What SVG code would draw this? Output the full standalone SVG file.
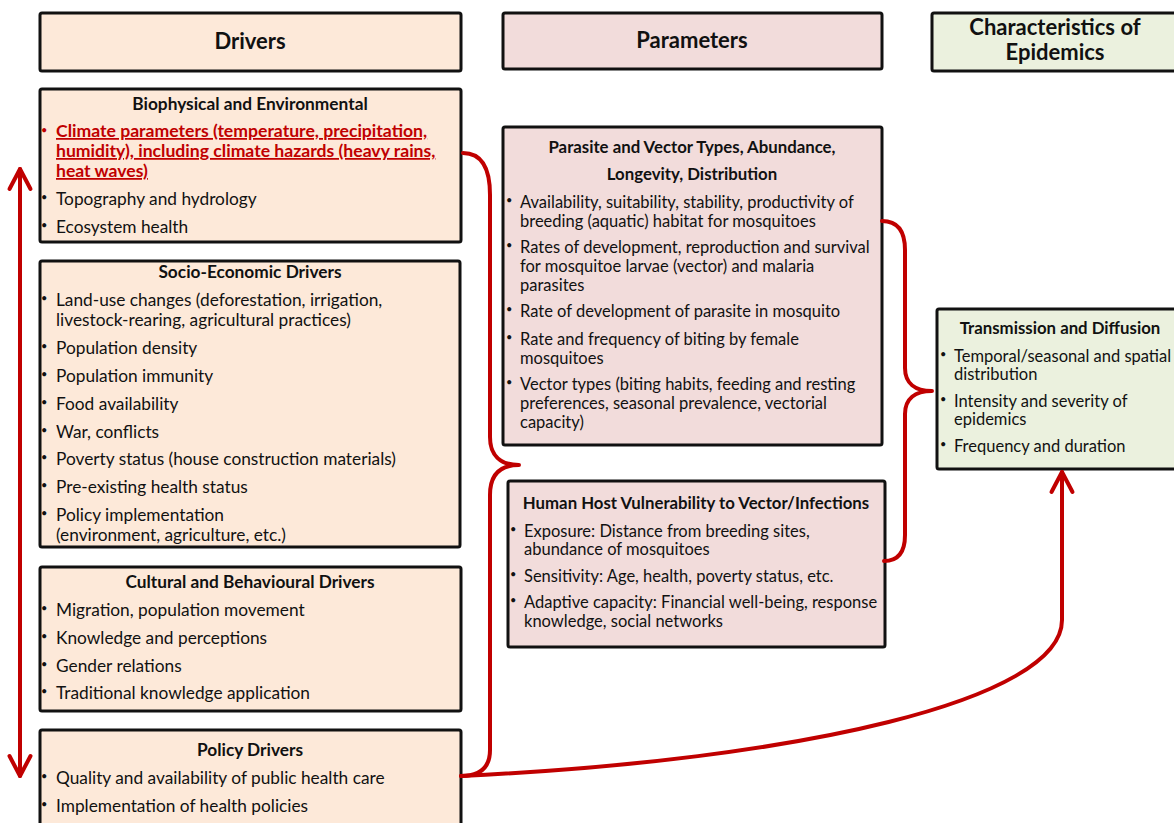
<svg xmlns="http://www.w3.org/2000/svg" width="1174" height="823" viewBox="0 0 1174 823">
<style>
text{font-family:Lato,"Liberation Sans",sans-serif;fill:#111}
.hdr{font-size:22px;font-weight:bold;text-anchor:middle}
.ttl{font-size:16.8px;font-weight:bold;text-anchor:middle}
.ttlL{font-size:17.3px;font-weight:bold;text-anchor:middle}
.txt{font-size:16.5px}
.txtL{font-size:17.3px}
.bul{font-size:11px}
.red{fill:#C00000;font-weight:bold;text-decoration:underline;font-size:17.6px}
.bd{stroke:#111;stroke-width:3}
.drv{fill:#FDE9D9}
.par{fill:#F2DCDB}
.chr{fill:#EBF1DE}
.con{fill:none;stroke:#C00000;stroke-width:4;stroke-linecap:round;stroke-linejoin:round}
</style>
<defs>
<marker id="chev" markerUnits="userSpaceOnUse" markerWidth="30" markerHeight="30" viewBox="-25 -15 30 30" refX="0" refY="0" orient="auto-start-reverse">
<path d="M-20,-10.5 L0,0 L-20,10.5" fill="none" stroke="#C00000" stroke-width="4" stroke-linecap="round" stroke-linejoin="round"/>
</marker>
</defs>
<rect width="1174" height="823" fill="#fff"/>

<g id="hdr-drivers">
<rect class="bd drv" x="40" y="13" width="421" height="58" rx="2"/>
<text class="hdr" x="250" y="49">Drivers</text>
</g>
<g id="hdr-parameters">
<rect class="bd par" x="503" y="13" width="379" height="56" rx="2"/>
<text class="hdr" x="692" y="48">Parameters</text>
</g>
<g id="hdr-characteristics">
<rect class="bd chr" x="932" y="13" width="250" height="58" rx="2"/>
<text class="hdr" x="1055" y="35">Characteristics of</text>
<text class="hdr" x="1055" y="60">Epidemics</text>
</g>

<g id="biophysical">
<rect class="bd drv" x="40" y="89" width="421" height="153" rx="2"/>
<text class="ttlL" x="250" y="110">Biophysical and Environmental</text>
<text class="bul" x="41" y="134" style="fill:#C00000">•</text>
<text class="red" x="56" y="137">Climate parameters (temperature, precipitation,</text>
<text class="red" x="56" y="157">humidity), including climate hazards (heavy rains,</text>
<text class="red" x="56" y="177">heat waves)</text>
<text class="bul" x="41" y="201">•</text>
<text class="txtL" x="56" y="205">Topography and hydrology</text>
<text class="bul" x="41" y="229">•</text>
<text class="txtL" x="56" y="233">Ecosystem health</text>
</g>

<g id="socio-economic">
<rect class="bd drv" x="40" y="261" width="420" height="286" rx="2"/>
<text class="ttlL" x="250" y="278">Socio-Economic Drivers</text>
<text class="bul" x="41" y="302">•</text>
<text class="txtL" x="56" y="306">Land-use changes (deforestation, irrigation,</text>
<text class="txtL" x="56" y="326">livestock-rearing, agricultural practices)</text>
<text class="bul" x="41" y="350">•</text>
<text class="txtL" x="56" y="354">Population density</text>
<text class="bul" x="41" y="378">•</text>
<text class="txtL" x="56" y="382">Population immunity</text>
<text class="bul" x="41" y="406">•</text>
<text class="txtL" x="56" y="410">Food availability</text>
<text class="bul" x="41" y="434">•</text>
<text class="txtL" x="56" y="438">War, conflicts</text>
<text class="bul" x="41" y="461">•</text>
<text class="txtL" x="56" y="465">Poverty status (house construction materials)</text>
<text class="bul" x="41" y="489">•</text>
<text class="txtL" x="56" y="493">Pre-existing health status</text>
<text class="bul" x="41" y="517">•</text>
<text class="txtL" x="56" y="521">Policy implementation</text>
<text class="txtL" x="56" y="541">(environment, agriculture, etc.)</text>
</g>

<g id="cultural">
<rect class="bd drv" x="40" y="567" width="421" height="144" rx="2"/>
<text class="ttlL" x="250" y="588">Cultural and Behavioural Drivers</text>
<text class="bul" x="41" y="612">•</text>
<text class="txtL" x="56" y="616">Migration, population movement</text>
<text class="bul" x="41" y="640">•</text>
<text class="txtL" x="56" y="644">Knowledge and perceptions</text>
<text class="bul" x="41" y="668">•</text>
<text class="txtL" x="56" y="672">Gender relations</text>
<text class="bul" x="41" y="695">•</text>
<text class="txtL" x="56" y="699">Traditional knowledge application</text>
</g>

<g id="policy">
<rect class="bd drv" x="40" y="730" width="421" height="110" rx="2"/>
<text class="ttlL" x="250" y="756">Policy Drivers</text>
<text class="bul" x="41" y="780">•</text>
<text class="txtL" x="56" y="784">Quality and availability of public health care</text>
<text class="bul" x="41" y="808">•</text>
<text class="txtL" x="56" y="812">Implementation of health policies</text>
</g>

<g id="parasite-vector">
<rect class="bd par" x="503" y="127" width="379" height="318" rx="2"/>
<text class="ttl" x="692" y="153">Parasite and Vector Types, Abundance,</text>
<text class="ttl" x="692" y="180">Longevity, Distribution</text>
<text class="bul" x="506" y="204">•</text>
<text class="txt" x="520" y="208">Availability, suitability, stability, productivity of</text>
<text class="txt" x="520" y="227">breeding (aquatic) habitat for mosquitoes</text>
<text class="bul" x="506" y="249">•</text>
<text class="txt" x="520" y="253">Rates of development, reproduction and survival</text>
<text class="txt" x="520" y="272">for mosquitoe larvae (vector) and malaria</text>
<text class="txt" x="520" y="291">parasites</text>
<text class="bul" x="506" y="313">•</text>
<text class="txt" x="520" y="317">Rate of development of parasite in mosquito</text>
<text class="bul" x="506" y="341">•</text>
<text class="txt" x="520" y="345">Rate and frequency of biting by female</text>
<text class="txt" x="520" y="364">mosquitoes</text>
<text class="bul" x="506" y="386">•</text>
<text class="txt" x="520" y="390">Vector types (biting habits, feeding and resting</text>
<text class="txt" x="520" y="409">preferences, seasonal prevalence, vectorial</text>
<text class="txt" x="520" y="428">capacity)</text>
</g>

<g id="human-host">
<rect class="bd par" x="508" y="481" width="377" height="166" rx="2"/>
<text class="ttl" x="696" y="509">Human Host Vulnerability to Vector/Infections</text>
<text class="bul" x="510" y="533">•</text>
<text class="txt" x="524" y="537">Exposure: Distance from breeding sites,</text>
<text class="txt" x="524" y="555">abundance of mosquitoes</text>
<text class="bul" x="510" y="578">•</text>
<text class="txt" x="524" y="582">Sensitivity: Age, health, poverty status, etc.</text>
<text class="bul" x="510" y="604">•</text>
<text class="txt" x="524" y="608">Adaptive capacity: Financial well-being, response</text>
<text class="txt" x="524" y="627">knowledge, social networks</text>
</g>

<g id="transmission">
<rect class="bd chr" x="937" y="309" width="250" height="160" rx="2"/>
<text class="ttl" x="1060" y="334">Transmission and Diffusion</text>
<text class="bul" x="940" y="358">•</text>
<text class="txt" x="954" y="362">Temporal/seasonal and spatial</text>
<text class="txt" x="954" y="380">distribution</text>
<text class="bul" x="940" y="403">•</text>
<text class="txt" x="954" y="407">Intensity and severity of</text>
<text class="txt" x="954" y="425">epidemics</text>
<text class="bul" x="940" y="448">•</text>
<text class="txt" x="954" y="452">Frequency and duration</text>
</g>

<g id="connectors">
<path class="con" d="M20,169 L20,776" marker-start="url(#chev)" marker-end="url(#chev)"/>
<path class="con" d="M463,153 C483,153 490,170 490,195 L490,437 C490,455 500,465 519,465 C500,465 490,475 490,495 L490,750 C490,768 480,776 461,776"/>
<path class="con" d="M882,221 C898,221 905,232 905,250 L905,368 C905,383 915,391 932,391 C915,391 905,399 905,414 L905,535 C905,552 898,561 884,561"/>
<path class="con" d="M461,776 C800,760 1062,700 1062,620 L1062,472" marker-end="url(#chev)"/>
</g>
</svg>
